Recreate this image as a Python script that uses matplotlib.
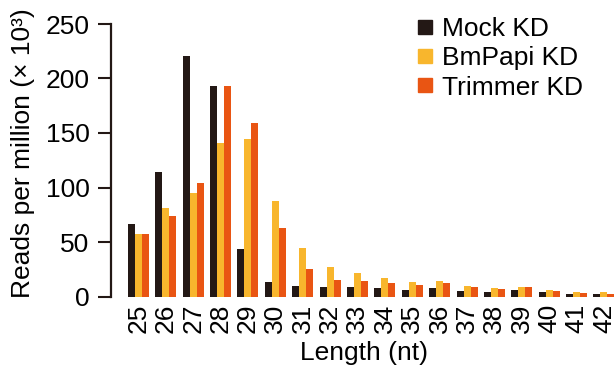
import numpy as np
import matplotlib.pyplot as plt
from matplotlib.lines import Line2D

plt.rcParams['font.family'] = ['Liberation Sans', 'DejaVu Sans']

lengths = [str(n) for n in range(25, 43)]
mock = [66.6, 114.3, 220.7, 193.2, 43.7, 13.4, 9.8, 8.9, 9.0, 7.9, 6.1, 7.9, 5.2, 4.3, 6.1, 4.3, 2.4, 2.4]
papi = [57.5, 81.3, 95.0, 140.9, 144.6, 87.7, 44.6, 27.2, 21.7, 17.1, 13.4, 14.4, 9.8, 7.9, 8.9, 6.1, 4.3, 4.3]
trimmer = [57.5, 74.0, 104.2, 193.2, 159.2, 63.0, 25.4, 15.3, 14.4, 12.5, 10.7, 12.5, 8.9, 7.0, 8.9, 5.2, 3.4, 2.4]

series = [("Mock KD", mock, "#231815"),
          ("BmPapi KD", papi, "#f8b62d"),
          ("Trimmer KD", trimmer, "#e95513")]

fs = 19

fig = plt.figure(figsize=(6.16, 3.75), dpi=100)
ax = fig.add_axes([111 / 616, 78.5 / 375, 505 / 616, 272.5 / 375])

x = np.arange(len(lengths))
w = 0.256
for i, (name, vals, col) in enumerate(series):
    ax.bar(x + (i - 1) * w, vals, width=w, color=col, linewidth=0)

ax.set_xlim(-1, 17.44)
ax.set_ylim(0, 250)
ax.set_yticks([0, 50, 100, 150, 200, 250])
ax.set_xticks(x)
ax.set_xticklabels(lengths, rotation=90)
ax.tick_params(axis='y', direction='out', length=9.5, width=1.5, labelsize=fs, pad=6, color='#231815')
ax.tick_params(axis='x', length=0, labelsize=fs, pad=5)
for s in ['top', 'right', 'bottom']:
    ax.spines[s].set_visible(False)
ax.spines['left'].set_linewidth(1.6)
ax.spines['left'].set_color('#231815')

ax.set_ylabel("Reads per million (× 10³)", fontsize=fs)
ax.yaxis.set_label_coords(-0.150, 0.527)
ax.set_xlabel("Length (nt)", fontsize=fs, labelpad=6)

handles = [Line2D([], [], marker='s', linestyle='none', markersize=9.5, color=col, label=name)
           for name, vals, col in series]
fig.legend(handles=handles, loc='upper left', bbox_to_anchor=(414 / 616, 1 - 17 / 375), frameon=False,
           fontsize=fs, handlelength=0.8, handletextpad=0.25, labelspacing=0.2,
           borderpad=0, borderaxespad=0)

fig.savefig("out.png", dpi=100)
